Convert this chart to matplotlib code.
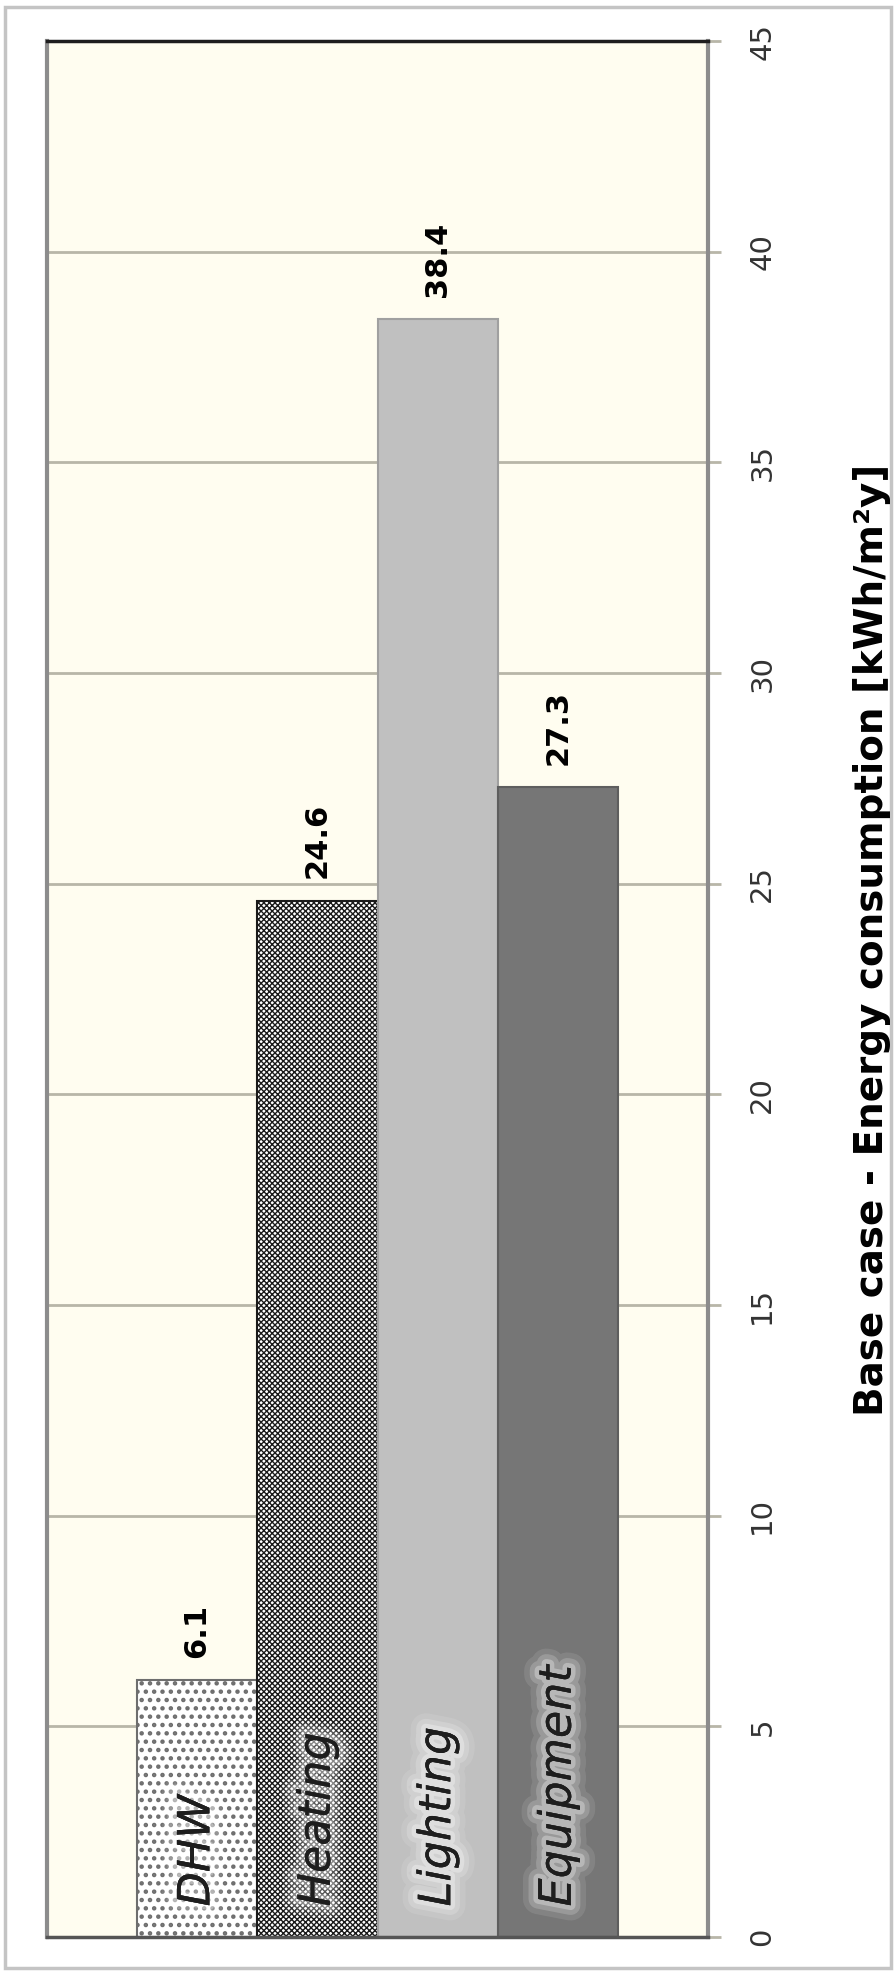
import matplotlib

matplotlib.use("Agg")
import matplotlib.pyplot as plt  # noqa: E402
import matplotlib.patheffects as pe  # noqa: E402
from matplotlib.patches import Rectangle  # noqa: E402

# data
categories = ["DHW", "Heating", "Lighting", "Equipment"]
values = [6.1, 24.6, 38.4, 27.3]
ticks = [0, 5, 10, 15, 20, 25, 30, 35, 40, 45]
axis_label = "Base case - Energy consumption [kWh/m\u00b2y]"

FACES = ["white", "white", "#c0c0c0", "#767676"]
HATCHES = ["..", "xxxxxx", None, None]
HATCH_LW = [2.0, 1.0, 1.0, 1.0]
EDGES = ["#6e6e6e", "#1a1a1a", "#a0a0a0", "#5e5e5e"]
CREAM = "#fffdf0"
GRID = "#b8b6a8"

plt.rcParams["font.family"] = ["DejaVu Sans"]
plt.rcParams["hatch.linewidth"] = 1.0

fig = plt.figure(figsize=(8.96, 19.75), dpi=100)
ax = fig.add_axes([47 / 896, 1 - 1937 / 1975, (708 - 47) / 896, (1937 - 41) / 1975])
ax.set_facecolor(CREAM)

x = list(range(len(categories)))
bars = ax.bar(x, values, width=1.0, color=FACES, edgecolor=EDGES, linewidth=1.5, zorder=2)
for b, h, hlw in zip(bars, HATCHES, HATCH_LW):
    if h:
        b.set_hatch(h)
        if hasattr(b, "set_hatch_linewidth"):
            b.set_hatch_linewidth(hlw)

ax.set_xlim(-1.244, 4.244)
ax.set_ylim(0, 45)
ax.set_yticks(ticks)
ax.set_xticks([])
ax.yaxis.tick_right()
ax.tick_params(axis="y", direction="out", length=9, width=2, color=GRID,
               pad=20, labelsize=21, labelcolor="#333333", labelrotation=90)
for lab in ax.get_yticklabels():
    lab.set_va("center")
    lab.set_ha("left")
ax.grid(True, axis="y", color=GRID, linewidth=2, zorder=0)
ax.set_axisbelow(True)

for side, col, lw in [("left", "#8c8c8c", 3), ("right", "#8c8c8c", 3),
                      ("top", "#1e1e1e", 2.5), ("bottom", "#555555", 2.5)]:
    ax.spines[side].set_color(col)
    ax.spines[side].set_linewidth(lw)

# value labels above the bars
for i, v in enumerate(values):
    ax.annotate(f"{v:.1f}", (i, v), xytext=(0, 16), textcoords="offset points",
                rotation=90, ha="center", va="bottom", fontsize=22,
                fontweight="bold", color="black")

# category names inside the bars, with a soft light glow
glow = [pe.withStroke(linewidth=22, foreground="white", alpha=0.1),
        pe.withStroke(linewidth=14, foreground="white", alpha=0.18),
        pe.withStroke(linewidth=7, foreground="white", alpha=0.3),
        pe.Normal()]
for i, c in enumerate(categories):
    ax.annotate(c, (i, 0), xytext=(0, 22), textcoords="offset points",
                rotation=90, ha="center", va="bottom", fontsize=32,
                fontstyle="italic", color="#1e1e1e", path_effects=glow, zorder=4)

fig.text(872 / 896, 1 - 940 / 1975, axis_label, rotation=90, ha="center", va="center",
         fontsize=28, fontweight="bold", color="black")

# outer chart frame
fig.patches.append(Rectangle((5 / 896, 7 / 1975), 886 / 896, 1961 / 1975,
                             transform=fig.transFigure, fill=False,
                             edgecolor="#c4c4c4", linewidth=2.5))

fig.savefig("out.png", dpi=100, facecolor="white")
